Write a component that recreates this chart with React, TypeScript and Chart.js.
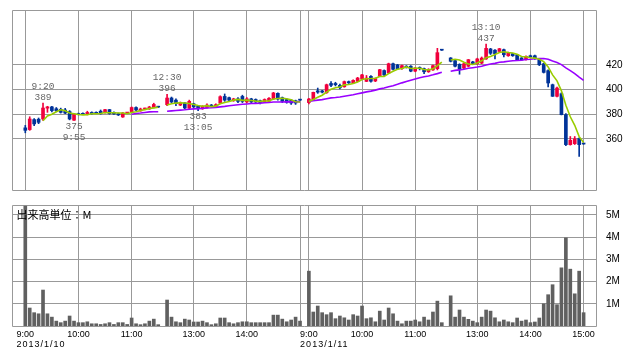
import React, { useEffect, useRef } from 'react';
import { Chart, registerables } from 'chart.js';

Chart.register(...registerables);

// ---- data (one entry per 5-minute slot; null = no trading / break) ----
const opens = [
  369, 367.6, 375.7, 376, 376.2, 385, 386, 384.5, 384, 383.5,
  382.2, 375.2, 380.5, 380.6, 380, 381.5, 381.5, 382.5, 381.5, 383.8,
  381.5, 380.5, 377.8, 381, 382.2, 385.5, 382.7, 384.3, 384.3, 385.5,
  386.2, null, 387.8, 393.2, 391.5, 387.5, 389.2, 385, 388.5, 386.5,
  384.5, 385.5, 387.5, 386, 389, 394.5, 393.5, 391, 392.5, 394.5,
  390, 392.5, 392, 391, 390, 390.5, 392.5, 397, 393.5, 392,
  391.5, 391, 391.8, null, 389.5, 392, 399, 399, 397.5, 405,
  405, 403.5, 402.3, 406.5, 405.4, 406.7, 408.5, 406.7, 410.8, 407,
  410.8, 415.5, 413.5, 421, 420, 417, 419, 419, 415, 418,
  417, 414.5, 416, 417, 432.3, null, 425.7, 423.5, 420.5, 417.5,
  419, 422.5, 421, 421.5, 424.9, 433, 432, 431, 432.4, 427.5,
  429.2, 428.3, 425.7, 424.3, 427.5, 427.5, 424.3, 421, 415.4, 404,
  394.6, 396.7, 379.7, 355.4, 356.2, 360.3, 356,
];
const highs = [
  371, 378, 376.5, 377, 389.2, 386.5, 386.5, 385.5, 385, 384.8,
  383, 380.5, 381, 381.2, 382.5, 382, 382, 383.5, 384, 384,
  382, 381, 381.5, 381.5, 386, 386, 385, 385, 386.5, 389,
  386.5, null, 396.2, 394, 392.5, 390, 389.5, 391.5, 389, 387,
  387, 388.5, 388, 388.5, 395, 396.5, 394, 393, 393.5, 395.5,
  393.5, 393, 392.5, 391.5, 392.5, 393.5, 397.8, 397.5, 394, 392.5,
  392, 391.5, 392, null, 393, 398, 401.3, 399.5, 404.5, 406.5,
  406, 404.5, 407, 407, 408, 410, 412.5, 411.5, 411.5, 409.5,
  416.5, 416, 421.5, 421.5, 420.5, 420, 419.5, 419.5, 418, 418.5,
  417.5, 417, 420, 433.5, 432.5, null, 426, 424, 421, 421.5,
  424.5, 423, 425.5, 426.5, 437, 433.5, 432.5, 433.5, 433, 430.5,
  429.5, 428.5, 426, 427.5, 428, 428, 425, 421.5, 416, 404.5,
  402, 397.5, 380.5, 362, 362, 361, 356.2,
];
const lows = [
  365, 367, 370.8, 372.4, 375.1, 381.6, 382, 382, 381, 380.5,
  375.5, 375, 379.5, 379.6, 379.5, 380, 380.5, 380, 381, 380,
  380, 379, 377.5, 380.5, 382, 383, 382.5, 384, 384, 385.2,
  385.5, null, 387, 389.5, 387, 387, 384.5, 384.5, 385.5, 383,
  384, 385, 385.5, 385.5, 388.5, 390.5, 391, 390.5, 389.5, 389.5,
  389.5, 389.5, 389.5, 388.5, 389.5, 390, 392, 391.5, 389.5, 389,
  388, 388, 391.3, null, 388.5, 391.5, 397, 397.3, 397, 402.5,
  403, 400.5, 402, 405, 405, 406.5, 408, 406.5, 406, 406.5,
  410.5, 411, 413, 416, 416.5, 416.5, 417.5, 414.5, 414.5, 416,
  413, 414, 415.5, 416, 431.8, null, 422.5, 418.5, 412.5, 417,
  418.5, 420.5, 420.5, 421, 424.5, 428.5, 425, 430.5, 426.5, 427,
  427, 423.5, 423.5, 424, 426, 424.5, 419.5, 413.5, 402.2, 394.5,
  394, 379.5, 354.5, 355, 355.5, 345.9, 355.7,
];
const closes = [
  367, 376.2, 372.2, 373.5, 385.1, 386, 383, 383, 381.6, 381,
  376.2, 380.3, 379.8, 380, 381.5, 380.5, 380.8, 380.8, 383.8, 380.5,
  380.3, 379.5, 381, 381, 385.5, 383.5, 384.3, 384.5, 385.9, 388,
  385.8, null, 393.2, 390, 388.6, 389.2, 385.1, 390.5, 386, 384.5,
  386.5, 387.5, 386.5, 387.8, 394.3, 391.5, 391.5, 392.5, 390.5, 390.5,
  392.5, 390, 390, 389.5, 392, 393, 397.3, 392.4, 390.5, 389.8,
  389.2, 389.2, 391.5, null, 392.4, 397.8, 398, 398, 404, 403.5,
  404, 401.5, 406.5, 405.5, 407.5, 409.4, 412, 409.4, 406.8, 409,
  416.2, 412, 421, 416.5, 417, 419.5, 418, 415, 417.5, 417,
  414.5, 416, 419.5, 430, 432, null, 423, 419, 416.5, 421,
  424.3, 421.2, 424.9, 425.6, 433.5, 429.5, 429.2, 433.2, 428.3, 430.2,
  427.5, 424.3, 424.3, 427, 426.5, 425.7, 420.2, 414, 405.4, 394.6,
  401.3, 379.7, 355.4, 358.9, 360, 355.4, 355.9,
];
const volumes = [
  5.4, 0.81, 0.6, 0.55, 1.62, 0.55, 0.4, 0.22, 0.15, 0.22,
  0.45, 0.22, 0.15, 0.15, 0.19, 0.1, 0.1, 0.07, 0.1, 0.15,
  0.07, 0.15, 0.15, 0.07, 0.36, 0.1, 0.06, 0.1, 0.22, 0.31,
  0.06, null, 1.17, 0.4, 0.19, 0.15, 0.31, 0.27, 0.18, 0.18,
  0.22, 0.15, 0.06, 0.1, 0.36, 0.36, 0.15, 0.1, 0.15, 0.19,
  0.19, 0.15, 0.15, 0.15, 0.15, 0.15, 0.49, 0.49, 0.31, 0.19,
  0.27, 0.4, 0.22, null, 2.47, 0.63, 0.9, 0.6, 0.51, 0.6,
  0.33, 0.45, 0.37, 0.27, 0.51, 0.45, 0.9, 0.33, 0.37, 0.19,
  0.67, 0.27, 0.81, 0.55, 0.22, 0.1, 0.22, 0.22, 0.27, 0.19,
  0.4, 0.27, 0.63, 1.12, 0.15, null, 1.36, 0.4, 0.72, 0.4,
  0.3, 0.22, 0.15, 0.4, 0.72, 0.67, 0.37, 0.19, 0.27, 0.19,
  0.15, 0.36, 0.22, 0.27, 0.15, 0.18, 0.36, 1.0, 1.41, 1.86,
  0.96, 2.62, 3.97, 2.56, 1.45, 2.47, 0.6,
];
const ma5 = [
  null, null, null, null, 374.8, 378.6, 380.0, 382.1, 383.7, 382.9,
  381.0, 380.4, 379.8, 379.5, 379.6, 380.4, 380.5, 380.7, 381.5, 381.3,
  381.2, 381.0, 381.0, 380.5, 381.5, 382.1, 383.1, 383.8, 384.7, 385.2,
  385.7, null, 387.5, 388.6, 389.1, 389.4, 389.2, 388.7, 387.9, 387.1,
  386.5, 387.0, 386.2, 386.6, 388.5, 389.5, 390.3, 391.5, 392.1, 391.3,
  391.5, 391.2, 390.7, 390.5, 390.8, 390.9, 392.4, 392.8, 393.0, 392.6,
  391.8, 390.2, 390.0, null, 390.4, 392.0, 393.8, 395.5, 398.0, 400.3,
  401.5, 402.2, 403.9, 404.2, 405.0, 406.1, 408.2, 408.8, 409.0, 409.3,
  410.7, 410.7, 413.0, 414.9, 416.5, 417.2, 418.4, 417.2, 417.4, 417.4,
  416.4, 416.0, 416.9, 419.4, 422.4, null, 424.1, 424.7, 424.1, 422.3,
  420.8, 420.4, 421.6, 423.4, 425.9, 426.9, 428.5, 430.2, 430.7, 430.1,
  429.7, 428.7, 426.9, 426.7, 425.9, 425.6, 424.7, 422.7, 418.4, 412.0,
  407.1, 399.0, 387.3, 378.0, 371.1, 361.9, 357.1,
];
const ma25 = [
  null, null, null, null, null, null, null, null, null, null,
  null, null, null, null, null, null, null, null, null, null,
  null, null, null, null, 380.0, 380.7, 381.0, 381.5, 382.0, 382.1,
  382.1, null, 382.5, 382.8, 383.1, 383.4, 383.7, 384.1, 384.4, 384.6,
  384.8, 385.1, 385.3, 385.6, 386.0, 386.4, 386.9, 387.4, 387.8, 388.1,
  388.4, 388.7, 388.9, 389.1, 389.4, 389.6, 390.0, 390.0, 390.0, 390.1,
  390.1, 390.2, 390.3, null, 390.5, 391.0, 391.5, 391.9, 392.6, 393.3,
  393.6, 394.0, 394.6, 395.2, 395.8, 396.6, 397.4, 398.2, 398.8, 399.6,
  400.6, 401.3, 402.3, 403.2, 404.3, 405.5, 406.6, 407.7, 408.7, 409.7,
  410.4, 411.1, 412.0, 413.0, 414.1, null, 414.9, 415.6, 416.0, 416.6,
  417.3, 417.8, 418.3, 418.9, 420.0, 420.8, 421.3, 422.2, 422.5, 423.0,
  423.4, 423.6, 423.9, 424.4, 424.7, 425.1, 425.3, 425.2, 424.7, 423.2,
  422.0, 420.3, 417.7, 415.4, 413.0, 410.2, 407.6,
];

const xTickSlots = [0, 12, 24, 38, 50, 62, 64, 76, 88, 102, 114, 126];
const xTickLabels = ['9:00', '10:00', '11:00', '13:00', '14:00', '', '9:00', '10:00', '11:00', '13:00', '14:00', '15:00'];
const dateSlots = [0, 64];
const dateLabels = ['2013/1/10', '2013/1/11'];
const priceTicks = [360, 380, 400, 420];
const volumeTicks = [1, 2, 3, 4, 5];

const markSlots = [4, 11, 32, 39, 104];
const markTimes = ['9:20', '9:55', '12:30', '13:05', '13:10'];
const markValues = [389, 375, 396, 383, 437];
const markKinds = ['high', 'low', 'high', 'low', 'high'];

const volumeUnitLabel = '出来高単位：M';

// ---- styles ----
const X_MIN = -3.0;
const X_MAX = 128.8;
const GRID = '#999999';
const UP = '#f0003c';
const DOWN = '#003399';
const MA5_COLOR = '#99cc00';
const MA25_COLOR = '#9900ff';
const VOL_COLOR = '#606060';

Chart.defaults.font.family = "'Liberation Sans', Arial, sans-serif";

const framePlugin = {
  id: 'frame',
  beforeDatasetsDraw(chart: any) {
    const { ctx, chartArea } = chart;
    const { left, top, right, bottom } = chartArea;
    ctx.save();
    ctx.strokeStyle = GRID;
    ctx.lineWidth = 1;
    ctx.beginPath();
    ctx.moveTo(left + 0.5, top + 0.5);
    ctx.lineTo(right + 0.5, top + 0.5);
    ctx.lineTo(right + 0.5, bottom + 0.5);
    ctx.lineTo(left + 0.5, bottom + 0.5);
    ctx.closePath();
    ctx.stroke();
    ctx.restore();
  },
};

const markPlugin = {
  id: 'marks',
  afterDatasetsDraw(chart: any) {
    const { ctx } = chart;
    const xs = chart.scales.x;
    const ys = chart.scales.y;
    ctx.save();
    ctx.font = "9.5px 'Liberation Mono', 'DejaVu Sans Mono', monospace";
    ctx.fillStyle = '#666666';
    ctx.textAlign = 'center';
    ctx.textBaseline = 'middle';
    markSlots.forEach((s, k) => {
      const px = xs.getPixelForValue(s);
      const py = ys.getPixelForValue(markValues[k]);
      const dir = markKinds[k] === 'high' ? -1 : 1;
      ctx.fillText(String(markValues[k]), px, py + dir * 6);
      ctx.fillText(markTimes[k], px, py + dir * 17);
    });
    ctx.restore();
  },
};

const volumeTextPlugin = {
  id: 'volText',
  afterDraw(chart: any) {
    const { ctx, chartArea } = chart;
    const xs = chart.scales.x;
    const ys = chart.scales.y;
    ctx.save();
    ctx.fillStyle = '#000000';
    ctx.textBaseline = 'middle';
    ctx.textAlign = 'left';
    ctx.font = "11px 'Noto Sans CJK JP', sans-serif";
    ctx.fillText(volumeUnitLabel, chartArea.left + 4.5, ys.getPixelForValue(5));
    ctx.font = "9px 'Liberation Sans', Arial, sans-serif";
    const half = ctx.measureText('9:00').width / 2;
    (ctx as any).letterSpacing = '1px';
    dateSlots.forEach((s, k) => {
      const px = xs.getPixelForValue(s);
      ctx.fillText(dateLabels[k], px - half, chartArea.bottom + 18.5);
    });
    ctx.restore();
  },
};

function noPad(s: any) {
  s.paddingTop = 0;
  s.paddingBottom = 0;
  s.paddingLeft = 0;
  s.paddingRight = 0;
}

function xScale(showLabels: boolean) {
  return {
    type: 'linear' as const,
    min: X_MIN,
    max: X_MAX,
    offset: false,
    grid: { color: GRID, lineWidth: 1, drawTicks: false, offset: false },
    border: { display: false },
    ticks: {
      display: showLabels,
      autoSkip: false,
      maxRotation: 0,
      minRotation: 0,
      padding: 3,
      color: '#000000',
      font: { size: 9 },
      callback: (v: any) => {
        const k = xTickSlots.indexOf(Number(v));
        return k >= 0 ? xTickLabels[k] : '';
      },
    },
    afterBuildTicks: (s: any) => {
      s.ticks = xTickSlots.map((v) => ({ value: v }));
    },
    afterFit: (s: any) => {
      s.height = showLabels ? 36 : 0;
      noPad(s);
    },
  };
}

function slotsOf(arr: (number | null)[]) {
  return arr.map((_, i) => i).filter((i) => arr[i] !== null);
}

export default function App() {
  const priceRef = useRef<HTMLCanvasElement>(null);
  const volRef = useRef<HTMLCanvasElement>(null);

  useEffect(() => {
    const candleSlots = slotsOf(opens);
    const colorOf = (i: number) => ((closes[i] as number) >= (opens[i] as number) ? UP : DOWN);

    const priceChart = new Chart(priceRef.current as HTMLCanvasElement, {
      type: 'bar',
      data: {
        datasets: [
          {
            type: 'line',
            data: ma5.map((v, i) => ({ x: i, y: v })),
            borderColor: MA5_COLOR,
            borderWidth: 1.6,
            pointRadius: 0,
            spanGaps: false,
            tension: 0,
            order: 0,
          } as any,
          {
            type: 'line',
            data: ma25.map((v, i) => ({ x: i, y: v })),
            borderColor: MA25_COLOR,
            borderWidth: 1.6,
            pointRadius: 0,
            spanGaps: false,
            tension: 0,
            order: 0,
          } as any,
          {
            type: 'bar',
            data: candleSlots.map((i) => ({ x: i, y: [opens[i], closes[i]] })),
            backgroundColor: candleSlots.map(colorOf),
            barThickness: 3,
            minBarLength: 1,
            grouped: false,
            order: 1,
          } as any,
          {
            type: 'bar',
            data: candleSlots.map((i) => ({ x: i, y: [lows[i], highs[i]] })),
            backgroundColor: candleSlots.map(colorOf),
            barThickness: 1,
            grouped: false,
            order: 2,
          } as any,
        ],
      },
      options: {
        animation: false,
        responsive: false,
        events: [],
        layout: { padding: { left: 12, top: 10, right: 0, bottom: 10 } },
        plugins: { legend: { display: false }, tooltip: { enabled: false } },
        scales: {
          x: xScale(false) as any,
          y: {
            position: 'right',
            min: 318.6,
            max: 464.6,
            grid: { color: GRID, lineWidth: 1, drawTicks: false },
            border: { display: false },
            ticks: { padding: 10, color: '#000000', font: { size: 10 } },
            afterBuildTicks: (s: any) => {
              s.ticks = priceTicks.map((v) => ({ value: v }));
            },
            afterFit: (s: any) => {
              s.width = 42;
              noPad(s);
            },
          } as any,
        },
      },
      plugins: [framePlugin, markPlugin],
    });

    const volSlots = slotsOf(volumes);
    const volChart = new Chart(volRef.current as HTMLCanvasElement, {
      type: 'bar',
      data: {
        datasets: [
          {
            data: volSlots.map((i) => ({ x: i, y: volumes[i] })),
            backgroundColor: VOL_COLOR,
            barThickness: 3,
            grouped: false,
          } as any,
        ],
      },
      options: {
        animation: false,
        responsive: false,
        events: [],
        layout: { padding: { left: 12, top: 5, right: 0, bottom: 0 } },
        plugins: { legend: { display: false }, tooltip: { enabled: false } },
        scales: {
          x: xScale(true) as any,
          y: {
            position: 'right',
            min: 0,
            max: 5.45,
            grid: { color: GRID, lineWidth: 1, drawTicks: false },
            border: { display: false },
            ticks: {
              padding: 10,
              color: '#000000',
              font: { size: 10 },
              callback: (v: any) => `${v}M`,
            },
            afterBuildTicks: (s: any) => {
              s.ticks = volumeTicks.map((v) => ({ value: v }));
            },
            afterFit: (s: any) => {
              s.width = 42;
              noPad(s);
            },
          } as any,
        },
      },
      plugins: [framePlugin, volumeTextPlugin],
    });

    return () => {
      priceChart.destroy();
      volChart.destroy();
    };
  }, []);

  return (
    <div style={{ position: 'absolute', left: 0, top: 0, width: 638, height: 362, background: '#ffffff' }}>
      <canvas ref={priceRef} width={638} height={200} style={{ position: 'absolute', left: 0, top: 0 }} />
      <canvas ref={volRef} width={638} height={162} style={{ position: 'absolute', left: 0, top: 200 }} />
    </div>
  );
}
